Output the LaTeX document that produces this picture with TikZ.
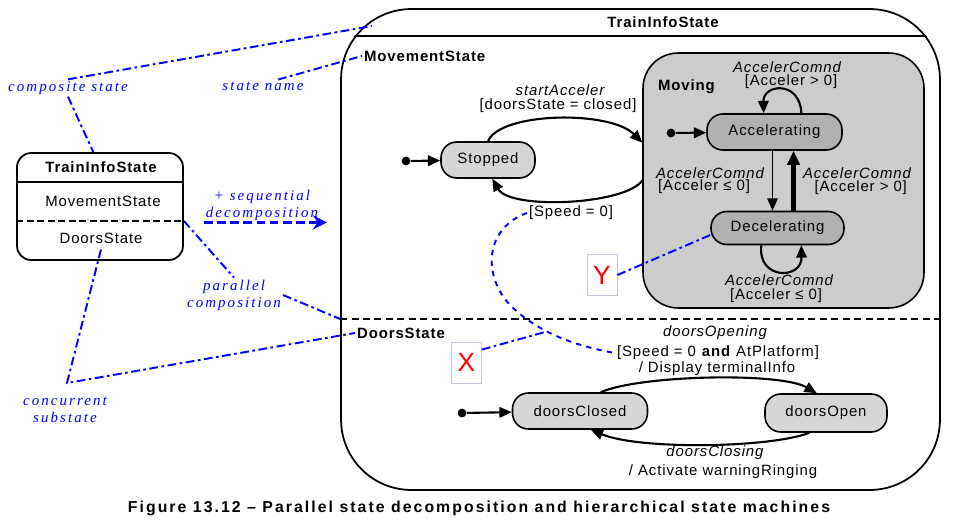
\documentclass[tikz,border=0pt]{standalone}
\usepackage{fontspec}
\setmainfont{Liberation Sans}[LetterSpace=6]
\newfontfamily\notefont{Liberation Serif}[LetterSpace=14]
\newfontfamily\capfont{Liberation Sans}[LetterSpace=13]
\usetikzlibrary{arrows.meta,calc,positioning}
\definecolor{boxline}{RGB}{200,200,225}

\begin{document}
\begin{tikzpicture}[x=0.02cm, y=-0.02cm,
		font=\fontsize{8.5}{10}\selectfont,
		state/.style={draw, line width=0.9pt, rounded corners=9pt, fill=gray!32, inner sep=0pt},
		substate/.style={state, fill=gray!62},
		initdot/.style={circle, fill, inner sep=0pt, minimum size=5pt},
		trans/.style={line width=1.2pt, -{Triangle[length=7pt,width=6pt]}},
		stitle/.style={font=\fontsize{8.5}{10}\selectfont\bfseries, inner sep=1pt},
		evt/.style={font=\fontsize{8.5}{10}\selectfont\itshape, inner sep=1pt},
		guard/.style={inner sep=1pt},
		note/.style={text=blue, font=\notefont\itshape\fontsize{8.5}{9.7}\selectfont, align=center, inner sep=1pt},
		noteline/.style={draw=blue, line width=1.1pt, dash pattern=on 5pt off 2pt on 1.5pt off 2pt},
		markbox/.style={draw=boxline, text=red, font=\fontsize{15}{15}\selectfont, minimum width=0.6cm, minimum height=0.82cm, inner sep=0pt}]
			\useasboundingbox (0,0) rectangle (960,527);
			
			\node[draw, line width=1pt, rounded corners=40pt, minimum width=11.98cm, minimum height=9.62cm, inner sep=0pt] (train) at (640.5,249.5) {};
			\begin{scope}
				\clip[rounded corners=40pt] (train.north west) rectangle (train.south east);
				\draw[line width=1pt] (300,36) -- (960,36);
			\end{scope}
			\node[stitle] (trainname) at (663,22) {TrainInfoState};
			\coordinate (divL) at (train.west |- 0,319);
			\coordinate (divR) at (train.east |- 0,319);
			\draw[line width=1.2pt, dash pattern=on 4pt off 2.5pt] (divL) -- (divR);
			\node[stitle, anchor=west] (movname) at (362,56) {MovementState};
			\node[stitle, anchor=west] (doorsname) at (355,333) {DoorsState};
			
			\node[initdot] (i1) at (406,161) {};
			\node[state, minimum width=1.88cm, minimum height=0.72cm] (stopped) at (488,160) {Stopped};
			\draw[trans] (i1) -- (stopped);
			
			\node[draw, line width=0.9pt, rounded corners=20pt, fill=gray!40, minimum width=5.62cm, minimum height=5.1cm, inner sep=0pt] (moving) at (783.5,180.5) {};
			\node[stitle, anchor=west] (movingname) at (656,87) {Moving};
			\node[initdot] (i2) at (671,133) {};
			\node[substate, minimum width=2.7cm, minimum height=0.72cm] (acc) at (774.5,132) {Accelerating};
			\node[substate, minimum width=2.66cm, minimum height=0.66cm] (dec) at (777.5,228) {Decelerating};
			\draw[trans] (i2) -- (acc);
			
			\draw[trans] (acc.35) .. controls (800,80) and (763,84) .. (acc.120);
			\node[evt] (accloop1) at (787,67) {AccelerComnd};
			\node[guard] (accloop2) at (791,82) {[Acceler > 0]};
			
			\coordinate (a2d) at ($(acc.south)+(-2,0)$);
			\coordinate (d2a) at ($(acc.south)+(19,0)$);
			\draw[line width=0.8pt, -{Triangle[length=7pt,width=6pt]}] (a2d) -- (a2d |- dec.north);
			\draw[line width=2.4pt, -{Triangle[length=8pt,width=7pt]}] (d2a |- dec.north) -- (d2a);
			\node[evt, anchor=west] (down1) at (654,173) {AccelerComnd};
			\node[guard, anchor=west] (down2) at (656,187) {[Acceler ≤ 0]};
			\node[evt, anchor=east] (up1) at (913,173) {AccelerComnd};
			\node[guard, anchor=east] (up2) at (909,188) {[Acceler > 0]};
			
			\draw[trans] (dec.-133) .. controls (757,280) and (802,280) .. (dec.-36);
			\node[evt] (decloop1) at (779,280) {AccelerComnd};
			\node[guard] (decloop2) at (776,296) {[Acceler ≤ 0]};
			
			\draw[trans] (stopped.north) .. controls (500,112) and (610,110) .. (moving.165);
			\draw[trans] (moving.west) .. controls (625,205) and (510,210) .. (stopped.-77);
			\node[evt] (sa1) at (560,90) {startAcceler};
			\node[guard] (sa2) at (558,106) {[doorsState = closed]};
			\node[guard] (sp0) at (571,213) {[Speed = 0]};
			
			\node[initdot] (i3) at (462,413) {};
			\node[state, minimum width=2.7cm, minimum height=0.72cm] (closed) at (580,411) {doorsClosed};
			\node[state, minimum width=2.44cm, minimum height=0.76cm] (open) at (826,413) {doorsOpen};
			\draw[trans] (i3) -- (closed);
			\draw[trans] (closed.42) .. controls (640,375) and (780,372) .. (open.115);
			\draw[trans] (open.-130) .. controls (770,448) and (640,450) .. (closed.-60);
			\node[evt] (do1) at (715,333) {doorsOpening};
			\node[guard] (do2) at (718,353) {[Speed = 0 \textbf{and} AtPlatform]};
			\node[guard] (do3) at (717,369) {/ Display terminalInfo};
			\node[evt] (dc1) at (715,453) {doorsClosing};
			\node[guard] (dc2) at (723,472) {/ Activate warningRinging};
			
			\node[draw, line width=1pt, rounded corners=8pt, minimum width=3.32cm, minimum height=2.14cm, inner sep=0pt] (info) at (100,206.5) {};
			\draw[line width=1pt] (info.west |- 0,182) -- (info.east |- 0,182);
			\coordinate (sepL) at (info.west |- 0,221);
			\coordinate (sepR) at (info.east |- 0,221);
			\draw[line width=1pt, dash pattern=on 4pt off 2pt] (sepL) -- (sepR);
			\node[stitle] (infoname) at (101,167) {TrainInfoState};
			\node (infomov) at (103,201) {MovementState};
			\node (infodoors) at (101,238) {DoorsState};
			
			\node[note] (cs) at (68,88) {composite state};
			\node[note] (sn) at (263,86) {state name};
			\node[note] (seq) at (262,205) {+ sequential\\decomposition};
			\node[note] (par) at (234,295) {parallel\\composition};
			\node[note] (cc) at (65,410) {concurrent\\substate};
			
			\coordinate (trainTL) at (372,26);
			\coordinate (ccTip) at (67,383);
			\coordinate (seqEnd) at (327,225);
			\draw[noteline] (cs.north) -- (trainTL);
			\draw[noteline] (cs.south) -- (info.97);
			\draw[noteline] ($(sn.north)+(15,0)$) -- (movname.west);
			\draw[noteline] (sepR) -- (par.north);
			\draw[noteline] (par.east) -- (divL);
			\draw[noteline] (infodoors.south) -- (ccTip) -- (doorsname.west);
			\draw[draw=blue, line width=2pt, dash pattern=on 5pt off 2.5pt, -{Stealth[length=8pt,width=8pt]}] (seq.south west) -- (seq.south west -| seqEnd);
			
			\node[markbox] (xbox) at (466.5,362.5) {X};
			\node[markbox] (ybox) at (602,275) {Y};
			\coordinate (xhit) at (545,332);
			\draw[noteline] (xbox.40) -- (xhit);
			\draw[noteline] (ybox.east) -- (dec.186);
			\draw[draw=blue, line width=1.1pt, dashed] (sp0.west) .. controls (485,228) and (482,275) .. (510,305) .. controls (535,330) and (570,345) .. (do2.west);
			
			\node[font=\capfont\fontsize{9}{11}\selectfont\bfseries] (caption) at (479,508) {Figure 13.12 – Parallel state decomposition and hierarchical state machines};
			
\end{tikzpicture}
\end{document}
